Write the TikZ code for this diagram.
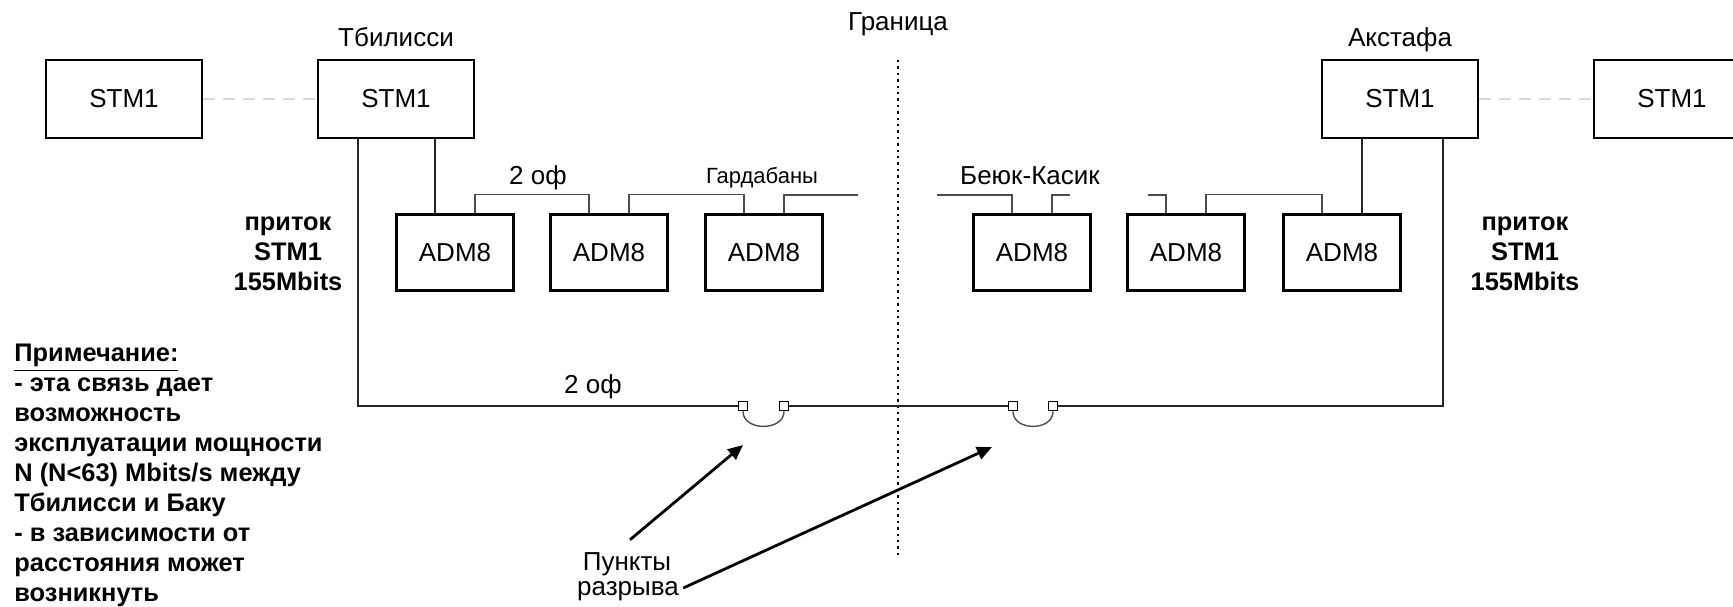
\documentclass[tikz,border=0pt]{standalone}
\usepackage{fontspec}
\setmainfont{Liberation Sans}
\usetikzlibrary{calc,positioning,arrows.meta}
\def\busy{195}
\def\ringy{406}

\begin{document}
\begin{tikzpicture}[x=0.5pt, y=-0.5pt,
	stm/.style={draw, line width=1.2pt, minimum width=78pt, minimum height=39pt, inner sep=0pt, font=\fontsize{13}{15}\selectfont},
	adm/.style={draw, line width=1.2pt, minimum width=58.5pt, minimum height=38pt, inner sep=0pt, font=\fontsize{13}{15}\selectfont},
	town/.style={inner sep=0pt, text depth=0pt, font=\fontsize{13}{15}\selectfont},
	small/.style={inner sep=0pt, font=\fontsize{11}{13}\selectfont},
	note/.style={inner sep=0pt, font=\bfseries\fontsize{12.7}{15}\selectfont},
	tap/.style={line width=0.9pt, black!85},
	bus/.style={line width=0.7pt, black!70},
	faint/.style={line width=0.8pt, black!15, dash pattern=on 6pt off 4pt},
	border/.style={line width=0.9pt, dash pattern=on 1.2pt off 2pt},
	brk/.style={draw, line width=0.9pt, fill=white, minimum size=4.5pt, inner sep=0pt},
	ptr/.style={line width=1.4pt, -{Triangle[length=7.5pt,width=6.5pt]}}]
	\useasboundingbox (0,0) rectangle (1733,606);
	\clip (0,0) rectangle (1733,606);
	%\draw[step=100, black!10] (0,0) grid (1733,606);

	% STM1 row
	\node[stm] (stmL) at (124,99) {STM1};
	\node[stm] (tbs) at (396,99) {STM1};
	\node[stm] (akst) at (1400,99) {STM1};
	\node[stm] (stmR) at (1672,99) {STM1};
	\node[town, above=6pt of tbs] (tbsname) {Тбилисси};
	\node[town, above=6pt of akst] (akstname) {Акстафа};
	\draw[faint] (stmL.east) -- (tbs.west);
	\draw[faint] (akst.east) -- (stmR.west);

	% border
	\coordinate (bordtop) at (898,60);
	\coordinate (bordbot) at (898,557);
	\draw[border] (bordtop) -- (bordbot);
	\node[town, above=14.5pt of bordtop] (bordname) {Граница};

	% ADM8 chain
	\node[adm] (adm1) at (455,252.5) {ADM8};
	\node[adm] (adm2) at (609,252.5) {ADM8};
	\node[adm] (adm3) at (764,252.5) {ADM8};
	\node[adm] (adm4) at (1032,252.5) {ADM8};
	\node[adm] (adm5) at (1186,252.5) {ADM8};
	\node[adm] (adm6) at (1342,252.5) {ADM8};
	\coordinate (gend) at (858,\busy);
	\coordinate (bend) at (937,\busy);
	\coordinate (bstub) at (1070,\busy);
	\coordinate (astub) at (1148,\busy);

	\draw[tap] ($(tbs.south)+(39,0)$) -- ($(adm1.north)+(-20,0)$);
	\draw[tap] ($(akst.south)+(-38,0)$) -- ($(adm6.north)+(20,0)$);
	\draw[bus] ($(adm1.north)+(20,0)$) -- ++(0,-19) -| ($(adm2.north)+(-20,0)$);
	\draw[bus] ($(adm2.north)+(20,0)$) -- ++(0,-19) -| ($(adm3.north)+(-20,0)$);
	\draw[bus] ($(adm3.north)+(20,0)$) |- (gend);
	\draw[bus] (bend) -| ($(adm4.north)+(-20,0)$);
	\draw[bus] ($(adm4.north)+(20,0)$) |- (bstub);
	\draw[bus] (astub) -| ($(adm5.north)+(-20,0)$);
	\draw[bus] ($(adm5.north)+(20,0)$) -- ++(0,-19) -| ($(adm6.north)+(-20,0)$);
	\node[town, anchor=base] (gard) at (538,184) {2 оф};
	\node[small, anchor=base] (gardname) at (762,183) {Гардабаны};
	\node[town, anchor=base] (bkname) at (1030,184) {Беюк-Касик};

	% tributaries
	\node[note, align=center] (inL) at (288,254) {приток\\STM1\\155Mbits};
	\node[note, align=center] (inR) at (1525,254) {приток\\STM1\\155Mbits};

	% ring and break points
	\node[brk] (b1) at (743,\ringy) {};
	\node[brk] (b2) at (784,\ringy) {};
	\node[brk] (b3) at (1013,\ringy) {};
	\node[brk] (b4) at (1053,\ringy) {};
	\draw[tap] ($(tbs.south)+(-38,0)$) |- (b1.west);
	\draw[tap] (b2.east) -- (b3.west);
	\draw[tap] (b4.east) -| ($(akst.south)+(43,0)$);
	\draw[bus] (b1.south) .. controls +(0,20) and +(0,20) .. (b2.south);
	\draw[bus] (b3.south) .. controls +(0,20) and +(0,20) .. (b4.south);
	\node[town, anchor=base] (ring) at (593,393) {2 оф};

	% pointers
	\node[town, anchor=base] (pnk) at (627,570) {Пункты};
	\node[town, anchor=base, inner sep=2pt] (razr) at (628,595) {разрыва};
	\draw[ptr] ($(pnk.north)+(3,-12)$) -- ($(b1)+(0,39)$);
	\draw[ptr] (razr.east) -- ($(b3)+(-21,41)$);

	% note
	\node[note, anchor=north west, align=left] (remark) at (14,344) {\underline{Примечание:}\\- эта связь дает\\возможность\\эксплуатации мощности\\N (N<63) Mbits/s между\\Тбилисси и Баку\\- в зависимости от\\расстояния может\\возникнуть};
\end{tikzpicture}
\end{document}
